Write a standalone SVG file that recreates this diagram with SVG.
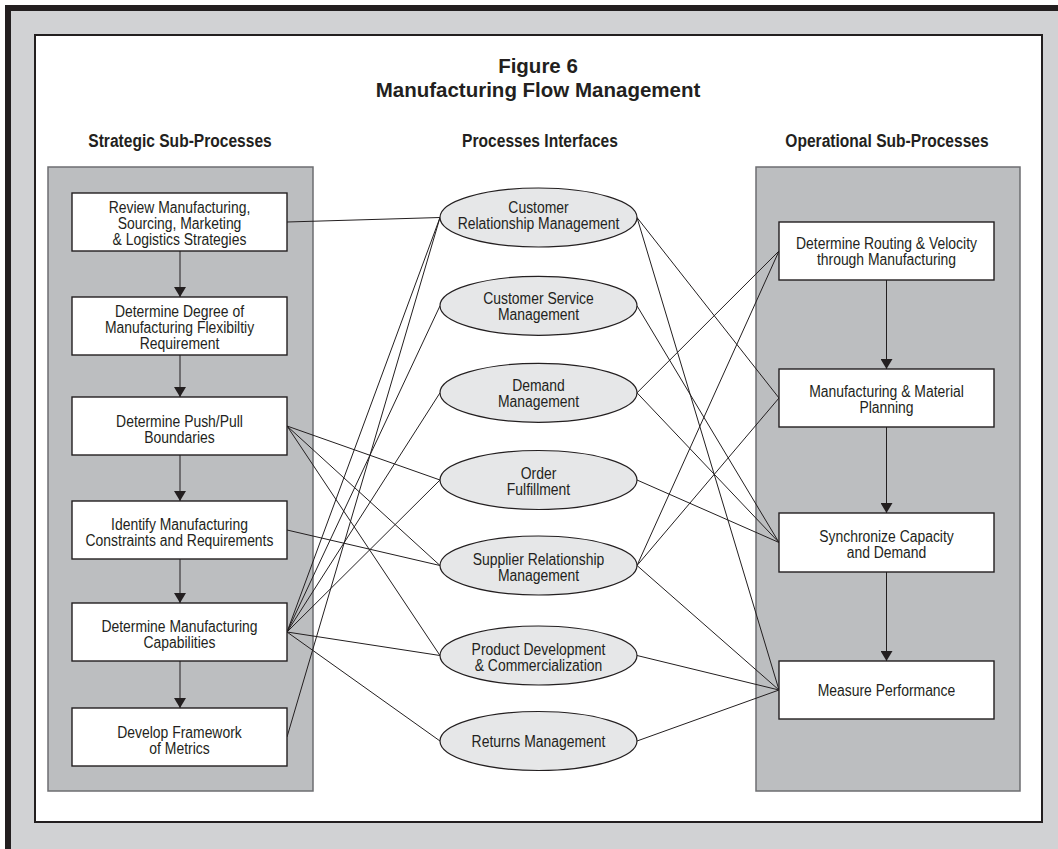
<svg xmlns="http://www.w3.org/2000/svg" width="1058" height="849" viewBox="0 0 1058 849">
<style>
.t{font-family:"Liberation Sans",Arial,sans-serif;font-size:16px;fill:#231f20;text-anchor:middle}
.h{font-family:"Liberation Sans",Arial,sans-serif;font-size:19px;font-weight:bold;fill:#231f20;text-anchor:middle}
.ti{font-family:"Liberation Sans",Arial,sans-serif;font-size:20.5px;font-weight:bold;fill:#231f20;text-anchor:middle}
.col{fill:#bcbec0;stroke:#6d6e71;stroke-width:1.5}
.box{fill:#ffffff;stroke:#231f20;stroke-width:1.4}
.ell{fill:#e6e7e8;stroke:#231f20;stroke-width:1.2}
.c line{stroke:#231f20;stroke-width:1}
.a{stroke:#231f20;stroke-width:1.4;marker-end:url(#ah)}
</style>
<defs>
<marker id="ah" viewBox="0 0 10 12" refX="10" refY="6" markerWidth="10" markerHeight="12" markerUnits="userSpaceOnUse" orient="auto">
<path d="M0,0 L10,6 L0,12 Z" fill="#231f20"/>
</marker>
</defs>
<rect x="0" y="0" width="1058" height="849" fill="#ffffff"/>
<rect x="5" y="5" width="1053" height="844" fill="#231f20"/>
<rect x="11" y="11" width="1047" height="838" fill="#d1d2d4"/>
<rect x="35" y="35" width="1007" height="787" fill="#ffffff" stroke="#231f20" stroke-width="2"/>

<g id="title">
<text class="ti" x="538" y="73">Figure 6</text>
<text class="ti" x="538" y="97">Manufacturing Flow Management</text>
</g>
<g id="headings">
<g transform="translate(180 0) scale(0.82 1)"><text class="h" x="0" y="147">Strategic Sub-Processes</text></g>
<g transform="translate(540 0) scale(0.82 1)"><text class="h" x="0" y="147">Processes Interfaces</text></g>
<g transform="translate(887 0) scale(0.82 1)"><text class="h" x="0" y="147">Operational Sub-Processes</text></g>
</g>

<rect id="strategic-panel" class="col" x="48" y="167" width="265" height="624"/>
<rect id="operational-panel" class="col" x="756" y="167" width="264" height="624"/>

<g class="c" id="connectors">
<line x1="287" y1="222" x2="440" y2="217.5"/>
<line x1="287" y1="426" x2="440" y2="480"/>
<line x1="287" y1="426" x2="440" y2="565.5"/>
<line x1="287" y1="426" x2="440" y2="655.5"/>
<line x1="287" y1="530" x2="440" y2="565.5"/>
<line x1="287" y1="632" x2="440" y2="217.5"/>
<line x1="287" y1="632" x2="440" y2="305.8"/>
<line x1="287" y1="632" x2="440" y2="392.8"/>
<line x1="287" y1="632" x2="440" y2="480"/>
<line x1="287" y1="632" x2="440" y2="655.5"/>
<line x1="287" y1="632" x2="440" y2="741"/>
<line x1="287" y1="737" x2="440" y2="217.5"/>
<line x1="637" y1="217.5" x2="779" y2="398"/>
<line x1="637" y1="217.5" x2="779" y2="690"/>
<line x1="637" y1="305.8" x2="779" y2="542.5"/>
<line x1="637" y1="392.8" x2="779" y2="251"/>
<line x1="637" y1="392.8" x2="779" y2="542.5"/>
<line x1="637" y1="480" x2="779" y2="542.5"/>
<line x1="637" y1="565.5" x2="779" y2="251"/>
<line x1="637" y1="565.5" x2="779" y2="398"/>
<line x1="637" y1="565.5" x2="779" y2="690"/>
<line x1="637" y1="655.5" x2="779" y2="690"/>
<line x1="637" y1="741" x2="779" y2="690"/>
<line class="a" x1="180" y1="251" x2="180" y2="297"/>
<line class="a" x1="180" y1="355" x2="180" y2="397"/>
<line class="a" x1="180" y1="455" x2="180" y2="501"/>
<line class="a" x1="180" y1="559" x2="180" y2="603"/>
<line class="a" x1="180" y1="661" x2="180" y2="708"/>
<line class="a" x1="886.5" y1="280" x2="886.5" y2="369"/>
<line class="a" x1="886.5" y1="427" x2="886.5" y2="513"/>
<line class="a" x1="886.5" y1="572" x2="886.5" y2="661"/>
</g>

<g id="s1"><rect class="box" x="72" y="193" width="215" height="58"/>
<g transform="translate(179.5 0) scale(0.87 1)">
<text class="t" x="0" y="213">Review Manufacturing,</text>
<text class="t" x="0" y="229">Sourcing, Marketing</text>
<text class="t" x="0" y="245">&amp; Logistics Strategies</text></g></g>
<g id="s2"><rect class="box" x="72" y="297" width="215" height="58"/>
<g transform="translate(179.5 0) scale(0.87 1)">
<text class="t" x="0" y="317">Determine Degree of</text>
<text class="t" x="0" y="333">Manufacturing Flexibiltiy</text>
<text class="t" x="0" y="349">Requirement</text></g></g>
<g id="s3"><rect class="box" x="72" y="397" width="215" height="58"/>
<g transform="translate(179.5 0) scale(0.87 1)">
<text class="t" x="0" y="427">Determine Push/Pull</text>
<text class="t" x="0" y="443">Boundaries</text></g></g>
<g id="s4"><rect class="box" x="72" y="501" width="215" height="58"/>
<g transform="translate(179.5 0) scale(0.87 1)">
<text class="t" x="0" y="530">Identify Manufacturing</text>
<text class="t" x="0" y="546">Constraints and Requirements</text></g></g>
<g id="s5"><rect class="box" x="72" y="603" width="215" height="58"/>
<g transform="translate(179.5 0) scale(0.87 1)">
<text class="t" x="0" y="632">Determine Manufacturing</text>
<text class="t" x="0" y="648">Capabilities</text></g></g>
<g id="s6"><rect class="box" x="72" y="708" width="215" height="58"/>
<g transform="translate(179.5 0) scale(0.87 1)">
<text class="t" x="0" y="738">Develop Framework</text>
<text class="t" x="0" y="754">of Metrics</text></g></g>

<g id="i1"><ellipse class="ell" cx="538.5" cy="217.5" rx="98.5" ry="29.5"/>
<g transform="translate(538.5 0) scale(0.87 1)">
<text class="t" x="0" y="213.5">Customer</text>
<text class="t" x="0" y="229.5">Relationship Management</text></g></g>
<g id="i2"><ellipse class="ell" cx="538.5" cy="305.8" rx="98.5" ry="29.5"/>
<g transform="translate(538.5 0) scale(0.87 1)">
<text class="t" x="0" y="304">Customer Service</text>
<text class="t" x="0" y="320">Management</text></g></g>
<g id="i3"><ellipse class="ell" cx="538.5" cy="392.8" rx="98.5" ry="29.5"/>
<g transform="translate(538.5 0) scale(0.87 1)">
<text class="t" x="0" y="391">Demand</text>
<text class="t" x="0" y="407">Management</text></g></g>
<g id="i4"><ellipse class="ell" cx="538.5" cy="480" rx="98.5" ry="29.5"/>
<g transform="translate(538.5 0) scale(0.87 1)">
<text class="t" x="0" y="479">Order</text>
<text class="t" x="0" y="495">Fulfillment</text></g></g>
<g id="i5"><ellipse class="ell" cx="538.5" cy="565.5" rx="98.5" ry="29.5"/>
<g transform="translate(538.5 0) scale(0.87 1)">
<text class="t" x="0" y="565">Supplier Relationship</text>
<text class="t" x="0" y="581">Management</text></g></g>
<g id="i6"><ellipse class="ell" cx="538.5" cy="655.5" rx="98.5" ry="29.5"/>
<g transform="translate(538.5 0) scale(0.87 1)">
<text class="t" x="0" y="655">Product Development</text>
<text class="t" x="0" y="671">&amp; Commercialization</text></g></g>
<g id="i7"><ellipse class="ell" cx="538.5" cy="741" rx="98.5" ry="29.5"/>
<g transform="translate(538.5 0) scale(0.87 1)">
<text class="t" x="0" y="747">Returns Management</text></g></g>

<g id="o1"><rect class="box" x="779" y="222" width="215" height="58"/>
<g transform="translate(886.5 0) scale(0.87 1)">
<text class="t" x="0" y="249.5">Determine Routing &amp; Velocity</text>
<text class="t" x="0" y="265.5">through Manufacturing</text></g></g>
<g id="o2"><rect class="box" x="779" y="369" width="215" height="58"/>
<g transform="translate(886.5 0) scale(0.87 1)">
<text class="t" x="0" y="397.5">Manufacturing &amp; Material</text>
<text class="t" x="0" y="413.5">Planning</text></g></g>
<g id="o3"><rect class="box" x="779" y="513" width="215" height="59"/>
<g transform="translate(886.5 0) scale(0.87 1)">
<text class="t" x="0" y="542">Synchronize Capacity</text>
<text class="t" x="0" y="558">and Demand</text></g></g>
<g id="o4"><rect class="box" x="779" y="661" width="215" height="58"/>
<g transform="translate(886.5 0) scale(0.87 1)">
<text class="t" x="0" y="696">Measure Performance</text></g></g>
</svg>
